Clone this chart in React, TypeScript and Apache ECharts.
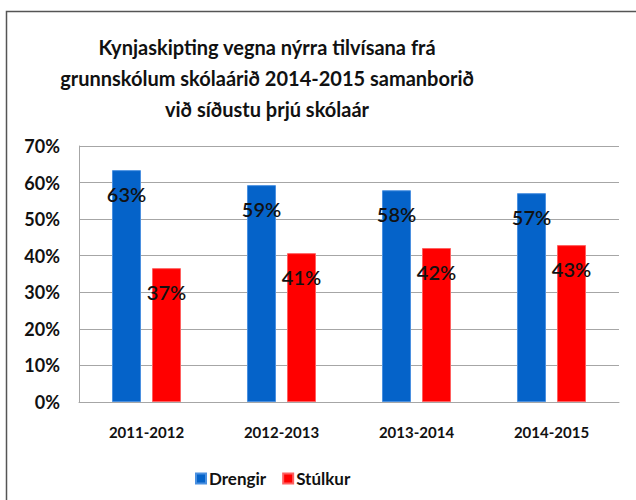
import React, { useEffect, useRef } from "react";
import * as echarts from "echarts";

const categories = ["2011-2012", "2012-2013", "2013-2014", "2014-2015"];
const drengir = [63.4, 59.3, 57.9, 57.1];
const stulkur = [36.6, 40.7, 42.1, 42.9];
const seriesNames = ["Drengir", "Stúlkur"];
const titleLines = [
  "Kynjaskipting vegna nýrra tilvísana frá",
  "grunnskólum skólaárið 2014-2015 samanborið",
  "við síðustu þrjú skólaár",
];

const FONT = "Lato, 'Open Sans', sans-serif";

export default function App() {
  const ref = useRef<HTMLDivElement>(null);
  useEffect(() => {
    if (!ref.current) return;
    const chart = echarts.init(ref.current, null, { renderer: "svg" });
    const label = {
      show: true,
      position: "insideTop",
      distance: 14,
      formatter: (p: any) => Math.round(p.value) + "%",
      color: "#111",
      fontFamily: FONT,
      fontSize: 20,
      fontWeight: 600,
    };
    chart.setOption({
      animation: false,
      backgroundColor: "#fff",
      textStyle: { fontFamily: FONT },
      graphic: [
        {
          type: "rect",
          shape: { x: 6.5, y: 11.5, width: 700, height: 600 },
          style: { fill: "none", stroke: "#555", lineWidth: 1.5 },
          silent: true,
        },
        {
          type: "text",
          x: 267,
          y: 31,
          style: {
            text: titleLines.join("\n"),
            fontFamily: FONT,
            fontSize: 20,
            fontWeight: "bold",
            lineHeight: 31,
            fill: "#111",
            align: "center",
            verticalAlign: "top",
          },
        },
      ],
      legend: {
        data: seriesNames,
        left: 190,
        top: 465,
        icon: "rect",
        itemWidth: 10,
        itemHeight: 10,
        itemGap: 16,
        textStyle: { fontFamily: FONT, fontSize: 17, fontWeight: "bold", color: "#111", padding: [0, 0, 0, -2] },
      },
      grid: { left: 79, top: 146, right: 17, bottom: 98 },
      xAxis: {
        type: "category",
        data: categories,
        axisTick: { show: false },
        axisLine: { lineStyle: { color: "#a6a6a6", width: 1 } },
        axisLabel: { margin: 22, fontFamily: FONT, fontSize: 15, fontWeight: "bold", color: "#111" },
      },
      yAxis: {
        type: "value",
        min: 0,
        max: 70,
        interval: 10,
        axisLine: { show: true, lineStyle: { color: "#a6a6a6", width: 1 } },
        axisTick: { show: false },
        splitLine: { lineStyle: { color: "#a6a6a6", width: 1 } },
        axisLabel: {
          formatter: "{value}%",
          margin: 19,
          fontFamily: FONT,
          fontSize: 18,
          fontWeight: "bold",
          color: "#111",
        },
      },
      series: [
        {
          name: seriesNames[0],
          type: "bar",
          data: drengir,
          barWidth: 29,
          barGap: "38%",
          itemStyle: { color: "#0563c9", borderColor: "#4a90e0", borderWidth: 1 },
          label,
        },
        {
          name: seriesNames[1],
          type: "bar",
          data: stulkur,
          barWidth: 29,
          itemStyle: { color: "#ff0000", borderColor: "#ff6060", borderWidth: 1 },
          label,
        },
      ],
    });
    return () => chart.dispose();
  }, []);
  return (
    <div
      ref={ref}
      style={{ position: "fixed", left: 0, top: 0, width: 636, height: 500 }}
    />
  );
}
